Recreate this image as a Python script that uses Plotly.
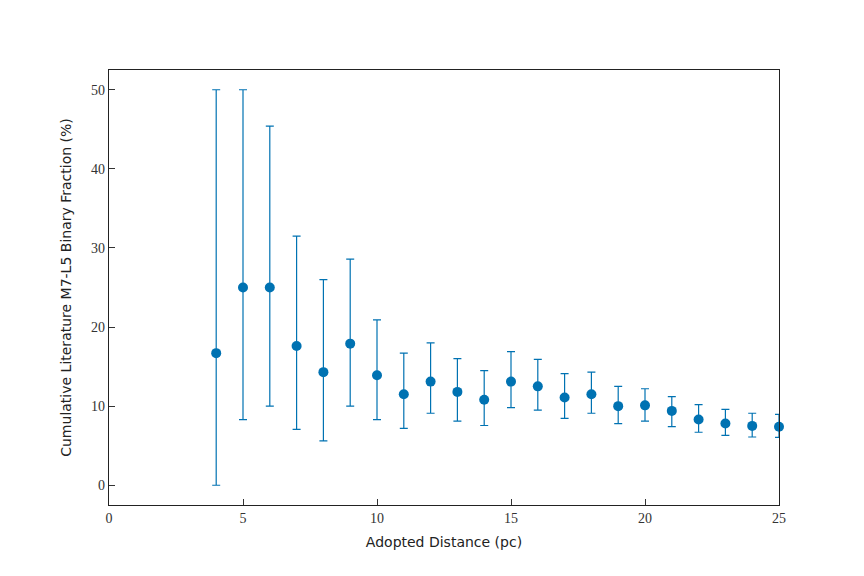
import plotly.graph_objects as go

# cumulative binary fraction vs adopted distance
distance = [4, 5, 6, 7, 8, 9, 10, 11, 12, 13, 14, 15, 16, 17, 18, 19, 20, 21, 22, 23, 24, 25]
fraction = [16.7, 25.0, 25.0, 17.6, 14.3, 17.9, 13.9, 11.5, 13.1, 11.8, 10.8, 13.1,
            12.5, 11.1, 11.5, 10.0, 10.1, 9.4, 8.3, 7.8, 7.5, 7.4]
upper = [50.0, 50.0, 45.4, 31.5, 26.0, 28.6, 20.9, 16.7, 18.0, 16.0, 14.5, 16.9,
         15.9, 14.1, 14.3, 12.5, 12.2, 11.2, 10.2, 9.6, 9.1, 8.95]
lower = [0.0, 8.3, 10.0, 7.05, 5.6, 10.0, 8.3, 7.2, 9.1, 8.1, 7.55, 9.8,
         9.5, 8.45, 9.1, 7.8, 8.1, 7.4, 6.7, 6.3, 6.1, 6.05]

err_plus = [u - f for u, f in zip(upper, fraction)]
err_minus = [f - l for f, l in zip(fraction, lower)]

col = 'rgb(0, 114, 178)'

fig = go.Figure()
fig.add_trace(go.Scatter(
    x=distance, y=fraction, mode='markers',
    marker=dict(color=col, size=10),
    error_y=dict(type='data', symmetric=False, array=err_plus, arrayminus=err_minus,
                 color=col, thickness=1.2, width=4),
    cliponaxis=False, showlegend=False))

axis_style = dict(showline=True, linecolor='#222', linewidth=1.2, mirror=True,
                  ticks='inside', ticklen=6, tickwidth=1.2, tickcolor='#333',
                  showgrid=False, zeroline=False,
                  tickfont=dict(family='Liberation Serif', size=14, color='#333'),
                  title_font=dict(family='DejaVu Sans', size=14, color='#222'))

fig.update_xaxes(range=[0, 25], dtick=5, title_text='Adopted Distance (pc)',
                 title_standoff=12, **axis_style)
fig.update_yaxes(range=[-2.5, 52.5], dtick=10,
                 title_text='Cumulative Literature M7-L5 Binary Fraction (%)',
                 title_standoff=16, **axis_style)

fig.update_layout(width=864, height=576, plot_bgcolor='white', paper_bgcolor='white',
                  margin=dict(l=101, r=93, t=62, b=79))

fig.write_html("out.html")
